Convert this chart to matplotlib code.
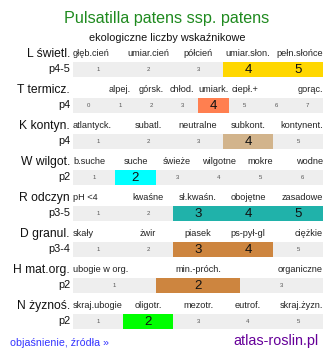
import matplotlib.pyplot as plt

plt.rcParams['font.family'] = ['Liberation Sans', 'DejaVu Sans']

title = 'Pulsatilla patens ssp. patens'
subtitle = 'ekologiczne liczby wskaźnikowe'

row_names = ['L świetl.', 'T termicz.', 'K kontyn.', 'W wilgot.',
             'R odczyn', 'D granul.', 'H mat.org.', 'N żyznoś.']
row_codes = ['p4-5', 'p4', 'p4', 'p2', 'p3-5', 'p3-4', 'p2', 'p2']

scale_L = ['głęb.cień', 'umiar.cień', 'półcień', 'umiar.słon.', 'pełn.słońce']
scale_T = ['', 'alpej.', 'górsk.', 'chłod.', 'umiark.', 'ciepł.+', '', 'gorąc.']
scale_K = ['atlantyck.', 'subatl.', 'neutralne', 'subkont.', 'kontynent.']
scale_W = ['b.suche', 'suche', 'świeże', 'wilgotne', 'mokre', 'wodne']
scale_R = ['pH <4', 'kwaśne', 'sł.kwaśn.', 'obojętne', 'zasadowe']
scale_D = ['skały', 'żwir', 'piasek', 'ps-pył-gl', 'ciężkie']
scale_H = ['ubogie w org.', 'min.-próch.', 'organiczne']
scale_N = ['skraj.ubogie', 'oligotr.', 'mezotr.', 'eutrof.', 'skraj.żyzn.']
scales = [scale_L, scale_T, scale_K, scale_W, scale_R, scale_D, scale_H, scale_N]

# first number of each scale (T starts at 0)
scale_start = [1, 0, 1, 1, 1, 1, 1, 1]

# indicator value ranges (low, high)
value_low = [4, 4, 4, 2, 3, 3, 2, 2]
value_high = [5, 4, 4, 2, 5, 4, 2, 2]

colors = ['#ffd700', '#ff7f50', '#d2b48c', '#00ffff',
          '#20b2aa', '#cd853f', '#cd853f', '#00ff00']

fig = plt.figure(figsize=(3.34, 3.58), dpi=100)
ax = fig.add_axes([0, 0, 1, 1])
ax.set_xlim(0, 334)
ax.set_ylim(358, 0)
ax.axis('off')

ax.text(167, 18, title, ha='center', va='center', fontsize=11.6, color='#1f8a1f')
ax.text(167, 38, subtitle, ha='center', va='center', fontsize=7.8, color='#111111')

x0, bar_w, bar_h = 73, 250, 15
top0, step = 62, 36

for r, name in enumerate(row_names):
    top = top0 + r * step
    yc = top + bar_h / 2
    ylab = top - 8
    labels = scales[r]
    n = len(labels)
    cw = bar_w / n
    start = scale_start[r]

    # row titles
    ax.text(70, ylab, name, ha='right', va='center', fontsize=8.7, color='#111111')
    ax.text(70, yc, row_codes[r], ha='right', va='center', fontsize=7.8, color='#111111')

    # grey background cells
    ax.barh(yc, bar_w, left=x0, height=bar_h, color='#eeeeee', linewidth=0)

    # highlighted range
    lo, hi = value_low[r], value_high[r]
    ax.barh(yc, (hi - lo + 1) * cw, left=x0 + (lo - start) * cw,
            height=bar_h, color=colors[r], linewidth=0)

    for i, lab in enumerate(labels):
        cx = x0 + (i + 0.5) * cw
        if i == 0:
            ax.text(x0, ylab, lab, ha='left', va='center', fontsize=6.6, color='#222222')
        elif i == n - 1:
            ax.text(x0 + bar_w, ylab, lab, ha='right', va='center', fontsize=6.6, color='#222222')
        else:
            ax.text(cx, ylab, lab, ha='center', va='center', fontsize=6.6, color='#222222')

        num = start + i
        if lo <= num <= hi:
            ax.text(cx, yc + 0.5, str(num), ha='center', va='center', fontsize=9.5, color='#111111')
        else:
            ax.text(cx, yc, str(num), ha='center', va='center', fontsize=4.3, color='#555555')

ax.text(10, 343, 'objaśnienie, źródła »', ha='left', va='center', fontsize=7.7, color='#3333ff')
ax.text(318, 341, 'atlas-roslin.pl', ha='right', va='center', fontsize=10.4, color='#660099')

fig.savefig('out.png', dpi=100)
